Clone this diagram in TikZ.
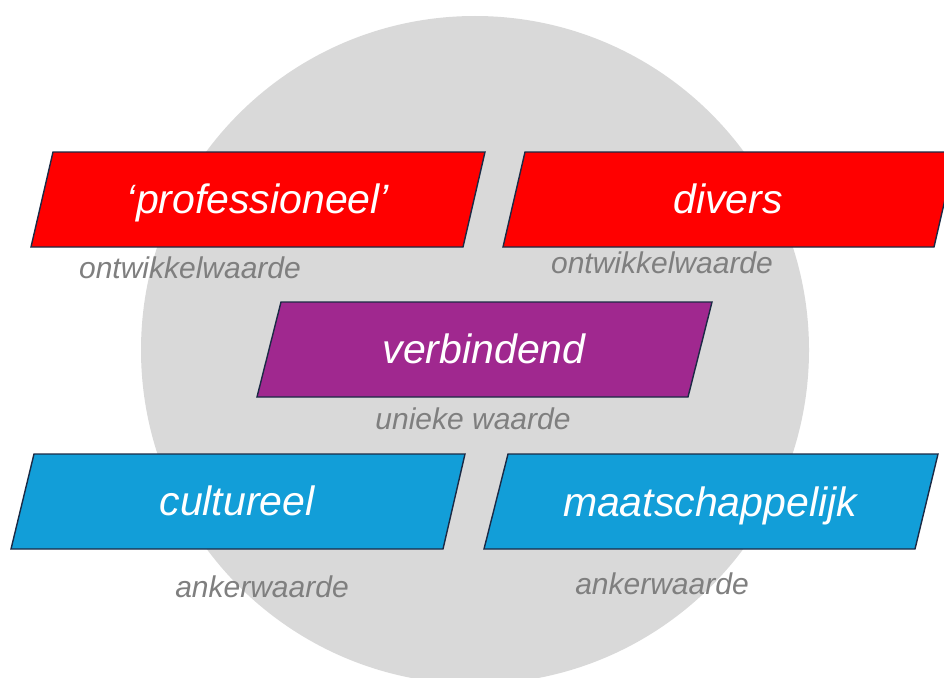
\documentclass[tikz,border=0pt]{standalone}
\usepackage{fontspec}
\setmainfont{Liberation Sans}
\definecolor{circgray}{HTML}{D9D9D9}
\definecolor{boxred}{HTML}{FF0000}
\definecolor{boxpurple}{HTML}{A0288F}
\definecolor{boxblue}{HTML}{129ED8}
\definecolor{edgenavy}{HTML}{1B2A45}
\definecolor{labelgray}{HTML}{7F7F7F}
\begin{document}
\begin{tikzpicture}[x=1pt,y=-1pt,
  slab/.style={draw=edgenavy, line width=1.4pt, line join=miter},
  maintext/.style={text=white, font=\fontsize{41}{48}\selectfont\itshape, anchor=base, inner sep=0pt},
  subtext/.style={text=labelgray, font=\fontsize{30}{36}\selectfont\itshape, anchor=base, inner sep=0pt}]
\useasboundingbox (0,0) rectangle (944,677);
\clip (0,0) rectangle (944,677);
\fill[circgray] (475,350) circle[radius=334];
% top row
\draw[slab, fill=boxred] (53,152) -- (485,152) -- (463,247) -- (31,247) -- cycle;
\draw[slab, fill=boxred] (525,152) -- (956,152) -- (934,247) -- (503,247) -- cycle;
% middle
\draw[slab, fill=boxpurple] (281,302) -- (712,302) -- (688,397) -- (257,397) -- cycle;
% bottom row
\draw[slab, fill=boxblue] (34,454) -- (465,454) -- (443,549) -- (11,549) -- cycle;
\draw[slab, fill=boxblue] (508,454) -- (938,454) -- (915,549) -- (484,549) -- cycle;
% texts
\node[maintext] (prof) at (258,213) {‘professioneel’};
\node[maintext] (div) at (728,213) {divers};
\node[maintext] (verb) at (484,363) {verbindend};
\node[maintext] (cult) at (237,515) {cultureel};
\node[maintext] (maat) at (710,516) {maatschappelijk};
\node[subtext] (ow1) at (190,278) {ontwikkelwaarde};
\node[subtext] (ow2) at (662,273) {ontwikkelwaarde};
\node[subtext] (uw) at (473,429) {unieke waarde};
\node[subtext] (aw1) at (262,597) {ankerwaarde};
\node[subtext] (aw2) at (662,594) {ankerwaarde};
\end{tikzpicture}
\end{document}
